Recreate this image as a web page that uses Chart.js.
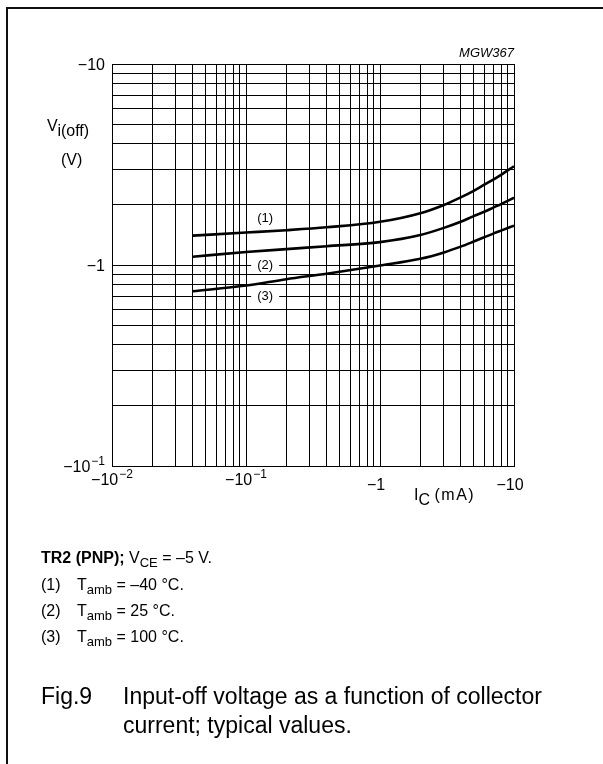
<!DOCTYPE html>
<html>
<head>
<meta charset="utf-8">
<script src="https://cdn.jsdelivr.net/npm/chart.js@4.4.1/dist/chart.umd.min.js"></script>
<style>
html,body{margin:0;padding:0;background:#fff;}
body{width:603px;height:764px;position:relative;overflow:hidden;font-family:"Liberation Sans",Arial,Helvetica,sans-serif;color:#000;}
#frame{position:absolute;left:6px;top:7px;width:700px;height:800px;border-left:2px solid #111;border-top:2px solid #111;}
#wrap{position:absolute;left:0;top:0;width:603px;height:764px;}
.t{position:absolute;white-space:nowrap;}
.sb{position:relative;}
</style>
</head>
<body>
<div id="frame"></div>
<div id="wrap"><canvas id="c" width="603" height="764"></canvas></div>

<div class="t" data-x="514" data-b="57" data-f="13" data-align="right" style="font-style:italic">MGW367</div>
<div class="t" data-x="47" data-b="132" data-f="16">V<span class="sb" style="font-size:16px;top:5px">i(off)</span></div>
<div class="t" data-x="61" data-b="166" data-f="16">(V)</div>
<div class="t" data-x="414" data-b="501" data-f="16">I<span class="sb" style="font-size:16px;top:5px">C</span> <span style="letter-spacing:1.5px">(mA)</span></div>

<div class="t" data-x="41" data-b="564" data-f="16"><b>TR2 (PNP);</b> V<span class="sb" style="font-size:13px;top:4px">CE</span> = –5 V.</div>
<div class="t" data-x="41" data-b="591" data-f="16">(1)</div>
<div class="t" data-x="77" data-b="591" data-f="16">T<span class="sb" style="font-size:13px;top:4px">amb</span> = –40 °C.</div>
<div class="t" data-x="41" data-b="617" data-f="16">(2)</div>
<div class="t" data-x="77" data-b="617" data-f="16">T<span class="sb" style="font-size:13px;top:4px">amb</span> = 25 °C.</div>
<div class="t" data-x="41" data-b="643" data-f="16">(3)</div>
<div class="t" data-x="77" data-b="643" data-f="16">T<span class="sb" style="font-size:13px;top:4px">amb</span> = 100 °C.</div>

<div class="t" data-x="41" data-b="704" data-f="23">Fig.9</div>
<div class="t" data-x="123" data-b="704" data-f="23">Input-off voltage as a function of collector</div>
<div class="t" data-x="123" data-b="733" data-f="23">current; typical values.</div>

<script>
// ---- data ----
const collectorCurrent_mA = [0.04, 0.1, 0.2, 0.4, 1, 2, 3, 4, 5, 6, 7, 8, 10];
const vioff_m40C  = [1.40, 1.45, 1.49, 1.54, 1.64, 1.81, 1.99, 2.17, 2.34, 2.51, 2.66, 2.81, 3.10];
const vioff_25C   = [1.10, 1.16, 1.20, 1.24, 1.30, 1.41, 1.53, 1.64, 1.75, 1.84, 1.93, 2.01, 2.16];
const vioff_100C  = [0.74, 0.79, 0.85, 0.905, 0.994, 1.074, 1.155, 1.234, 1.308, 1.374, 1.433, 1.483, 1.569];
const seriesLabels = ['(1)', '(2)', '(3)'];
const seriesLabelX = [0.139, 0.139, 0.139];
const seriesLabelY = [1.70, 1.0, 0.7];
const seriesLabelMask = [false, true, true];

const xTickValues = [0.01, 0.1, 1, 10];
const xTickBase   = ['−10', '−10', '−1', '−10'];
const xTickExp    = ['−2', '−1', '', ''];
const yTickValues = [10, 1, 0.1];
const yTickBase   = ['−10', '−1', '−10'];
const yTickExp    = ['', '', '−1'];
const gridMantissas = [1, 2, 3, 4, 5, 6, 7, 8, 9];
const xDecades = [-2, -1, 0, 1];
const yDecades = [-1, 0, 1];

const FONT = '"Liberation Sans", Arial, Helvetica, sans-serif';

// position html text by baseline
document.querySelectorAll('.t').forEach(el => {
  const f = +el.dataset.f;
  el.style.fontSize = f + 'px';
  el.style.lineHeight = f + 'px';
  el.style.top = (+el.dataset.b - 0.8465 * f) + 'px';
  if (el.dataset.align === 'right') {
    el.style.left = '0px';
    const w = el.getBoundingClientRect().width;
    el.style.left = (+el.dataset.x - w) + 'px';
  } else {
    el.style.left = el.dataset.x + 'px';
  }
});

function gridValues(decades) {
  const out = [];
  decades.forEach((d, i) => {
    if (i === decades.length - 1) { out.push(Math.pow(10, d)); return; }
    gridMantissas.forEach(m => out.push(m * Math.pow(10, d)));
  });
  return out;
}

function drawPow(ctx, base, exp, x, baseline, align) {
  const mainF = '16px ' + FONT, supF = '12px ' + FONT;
  ctx.font = mainF;
  const wb = ctx.measureText(base).width;
  ctx.font = supF;
  const we = exp ? ctx.measureText(exp).width + 1 : 0;
  const total = wb + we;
  const x0 = align === 'right' ? x - total : x - total / 2;
  ctx.fillStyle = '#000';
  ctx.textAlign = 'left';
  ctx.textBaseline = 'alphabetic';
  ctx.font = mainF;
  ctx.fillText(base, x0, baseline);
  if (exp) {
    ctx.font = supF;
    ctx.fillText(exp, x0 + wb + 1, baseline - 7);
  }
}

const labelPlugin = {
  id: 'labels',
  afterDraw(chart) {
    const ctx = chart.ctx;
    const xs = chart.scales.x, ys = chart.scales.y;
    ctx.save();
    yTickValues.forEach((v, i) => {
      const py = ys.getPixelForValue(v);
      drawPow(ctx, yTickBase[i], yTickExp[i], 105, py + 5.5, 'right');
    });
    xTickValues.forEach((v, i) => {
      const px = xs.getPixelForValue(v);
      if (xTickExp[i]) drawPow(ctx, xTickBase[i], xTickExp[i], px, 485, 'center');
      else drawPow(ctx, xTickBase[i], '', px - 4, 490, 'center');
    });
    ctx.font = '13px ' + FONT;
    ctx.textAlign = 'center';
    ctx.textBaseline = 'middle';
    seriesLabels.forEach((s, i) => {
      const px = xs.getPixelForValue(seriesLabelX[i]);
      const py = ys.getPixelForValue(seriesLabelY[i]);
      if (seriesLabelMask[i]) {
        ctx.fillStyle = '#fff';
        ctx.fillRect(px - 14, py - 7, 28, 14);
      }
      ctx.fillStyle = '#000';
      ctx.fillText(s, px, py);
    });
    ctx.restore();
  }
};

function series(vals) {
  return collectorCurrent_mA.map((x, i) => ({ x: x, y: vals[i] }));
}
const lineStyle = {
  borderColor: '#000', borderWidth: 2.6, pointRadius: 0, fill: false,
  cubicInterpolationMode: 'monotone', borderCapStyle: 'butt'
};

new Chart(document.getElementById('c'), {
  type: 'line',
  data: {
    datasets: [
      Object.assign({ label: seriesLabels[0], data: series(vioff_m40C) }, lineStyle),
      Object.assign({ label: seriesLabels[1], data: series(vioff_25C) }, lineStyle),
      Object.assign({ label: seriesLabels[2], data: series(vioff_100C) }, lineStyle)
    ]
  },
  options: {
    responsive: false,
    animation: false,
    devicePixelRatio: 1,
    layout: { padding: { left: 112, top: 64, right: 89, bottom: 298 } },
    plugins: { legend: { display: false }, tooltip: { enabled: false } },
    scales: {
      x: {
        type: 'logarithmic', min: 0.01, max: 10,
        ticks: { display: false },
        grid: { color: '#000', lineWidth: 1, drawTicks: false },
        border: { display: true, color: '#000', width: 1 },
        afterBuildTicks: s => { s.ticks = gridValues(xDecades).map(v => ({ value: v })); },
        afterFit: s => { s.height = 0; }
      },
      y: {
        type: 'logarithmic', min: 0.1, max: 10,
        ticks: { display: false },
        grid: { color: '#000', lineWidth: 1, drawTicks: false },
        border: { display: true, color: '#000', width: 1 },
        afterBuildTicks: s => { s.ticks = gridValues(yDecades).map(v => ({ value: v })); },
        afterFit: s => { s.width = 0; }
      }
    }
  },
  plugins: [labelPlugin]
});
</script>
</body>
</html>
